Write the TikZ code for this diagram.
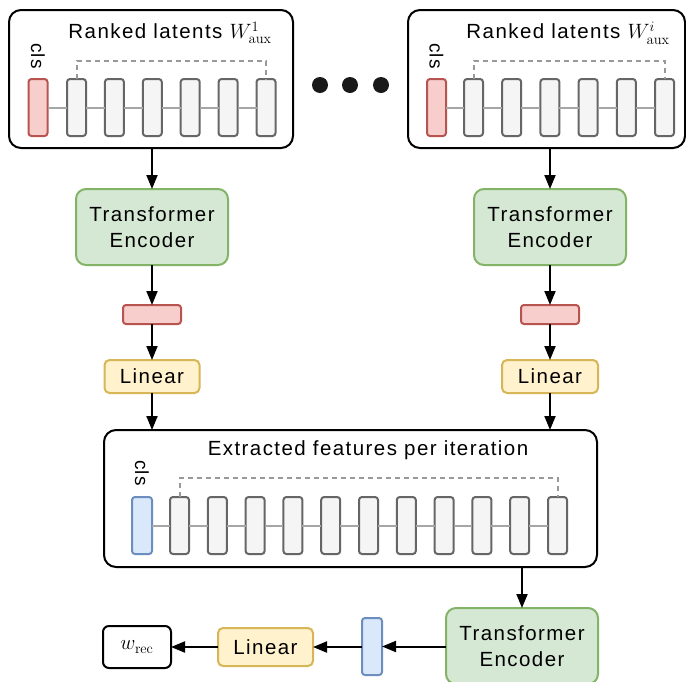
\documentclass[tikz,border=0pt]{standalone}
\usepackage[no-math]{fontspec}
\setmainfont{Liberation Sans}[LetterSpace=7]
\usetikzlibrary{arrows.meta}
\definecolor{redfill}{HTML}{F8CECC}
\definecolor{redline}{HTML}{B85450}
\definecolor{greenfill}{HTML}{D5E8D4}
\definecolor{greenline}{HTML}{82B366}
\definecolor{yellowfill}{HTML}{FFF2CC}
\definecolor{yellowline}{HTML}{D6B656}
\definecolor{bluefill}{HTML}{DAE8FC}
\definecolor{blueline}{HTML}{6C8EBF}
\definecolor{grayfill}{HTML}{F5F5F5}
\definecolor{grayline}{HTML}{666666}
\definecolor{linkgray}{HTML}{A6A6A6}
\definecolor{dashgray}{HTML}{999999}
\tikzset{
  base/.style={inner sep=0pt, outer sep=0pt},
  bigbox/.style={base, draw=black, line width=2pt, rounded corners=12pt, fill=white},
  clsred/.style={base, draw=redline, fill=redfill, line width=2pt, rounded corners=3pt, minimum width=19pt, minimum height=57pt},
  clsblue/.style={base, draw=blueline, fill=bluefill, line width=2pt, rounded corners=3pt, minimum width=20pt, minimum height=57pt},
  tok/.style={base, draw=grayline, fill=grayfill, line width=2pt, rounded corners=3pt, minimum width=19pt, minimum height=57pt},
  enc/.style={base, draw=greenline, fill=greenfill, line width=2pt, rounded corners=10pt, minimum width=152pt, minimum height=76pt, align=center, font=\fontsize{20.5}{26}\selectfont},
  lin/.style={base, draw=yellowline, fill=yellowfill, line width=2pt, rounded corners=5pt, minimum width=95pt, minimum height=33pt, font=\fontsize{20.5}{24}\selectfont},
  emb/.style={base, draw=redline, fill=redfill, line width=2pt, rounded corners=3pt, minimum width=58pt, minimum height=19pt},
  outbox/.style={base, draw=black, line width=2pt, rounded corners=6pt, fill=white, minimum width=68pt, minimum height=42pt, font=\fontsize{21}{24}\selectfont},
  ttl/.style={base, font=\fontsize{20.5}{24}\selectfont},
  clslbl/.style={base, rotate=-90, font=\fontsize{19}{20}\selectfont},
  link/.style={draw=linkgray, line width=2pt},
  dlink/.style={draw=dashgray, line width=2pt, dash pattern=on 5pt off 4pt},
  arr/.style={draw=black, line width=2pt, -{Triangle[width=11pt,length=14pt]}},
}
\begin{document}
\begin{tikzpicture}[x=1pt,y=-1pt]
\useasboundingbox (0,0) rectangle (686,681);

% top-left ranked latents
\node[bigbox, minimum width=284pt, minimum height=138pt] (tl) at (151,79) {};
\node[ttl] (tltitle) at (170,33) {Ranked latents $W^{1}_{\mathrm{aux}}$};
\node[clsred] (tlc) at (38,107.5) {};
\node[clslbl] (tlcls) at (38,56) {cls};
\foreach \k in {1,...,6} {
  \node[tok] (tlg\k) at ({76.5+37.9*(\k-1)},107.5) {};
}
\draw[link] (tlc.east) -- (tlg1.west);
\foreach \a/\b in {1/2,2/3,3/4,4/5,5/6} { \draw[link] (tlg\a.east) -- (tlg\b.west); }
\draw[dlink] (tlg1.north) -- ++(0,-18) -| (tlg6.north);

% top-right ranked latents
\node[bigbox, minimum width=277pt, minimum height=138pt] (tr) at (546.5,79) {};
\node[ttl] (trtitle) at (568,33) {Ranked latents $W^{i}_{\mathrm{aux}}$};
\node[clsred] (trc) at (436.5,107.5) {};
\node[clslbl] (trcls) at (436.5,56) {cls};
\foreach \k in {1,...,6} {
  \node[tok] (trg\k) at ({473.5+38.2*(\k-1)},107.5) {};
}
\draw[link] (trc.east) -- (trg1.west);
\foreach \a/\b in {1/2,2/3,3/4,4/5,5/6} { \draw[link] (trg\a.east) -- (trg\b.west); }
\draw[dlink] (trg1.north) -- ++(0,-18) -| (trg6.north);

% dots
\foreach \k/\x in {1/320,2/350,3/381} {
  \node[base, circle, fill=black!90, minimum size=16pt] (dot\k) at (\x,85) {};
}

% left column
\node[enc] (te1) at (152,227) {Transformer\\Encoder};
\node[emb] (e1) at (152,314.5) {};
\node[lin] (l1) at (152,376.5) {Linear};
\draw[arr] (tl.south -| te1.north) -- (te1.north);
\draw[arr] (te1.south) -- (e1.north);
\draw[arr] (e1.south) -- (l1.north);

% right column
\node[enc] (te2) at (550,227) {Transformer\\Encoder};
\node[emb] (e2) at (550,314.5) {};
\node[lin, minimum width=96pt] (l2) at (550,376.5) {Linear};
\draw[arr] (tr.south -| te2.north) -- (te2.north);
\draw[arr] (te2.south) -- (e2.north);
\draw[arr] (e2.south) -- (l2.north);

% extracted features
\node[bigbox, minimum width=493pt, minimum height=137pt] (bx) at (350.5,498.5) {};
\node[ttl] (bxtitle) at (368,450) {Extracted features per iteration};
\node[clsblue] (bxc) at (142,525.5) {};
\node[clslbl] (bxcls) at (142,473) {cls};
\foreach \k in {1,...,11} {
  \node[tok] (bxg\k) at ({179.5+37.8*(\k-1)},525.5) {};
}
\draw[link] (bxc.east) -- (bxg1.west);
\foreach \a/\b in {1/2,2/3,3/4,4/5,5/6,6/7,7/8,8/9,9/10,10/11} { \draw[link] (bxg\a.east) -- (bxg\b.west); }
\draw[dlink] (bxg1.north) -- ++(0,-19) -| (bxg11.north);

\draw[arr] (l1.south) -- (l1.south |- bx.north);
\draw[arr] (l2.south) -- (l2.south |- bx.north);

% bottom row
\node[enc] (te3) at (522,646) {Transformer\\Encoder};
\draw[arr] (bx.south -| te3.north) -- (te3.north);
\node[clsblue] (bc) at (372,646.5) {};
\node[lin, minimum height=38pt] (l3) at (265.5,647) {Linear};
\node[outbox] (out) at (137,647) {$w_{\mathrm{rec}}$};
\draw[arr] (te3.west |- bc.east) -- (bc.east);
\draw[arr] (bc.west |- l3.east) -- (l3.east);
\draw[arr] (l3.west) -- (out.east);
\end{tikzpicture}
\end{document}
